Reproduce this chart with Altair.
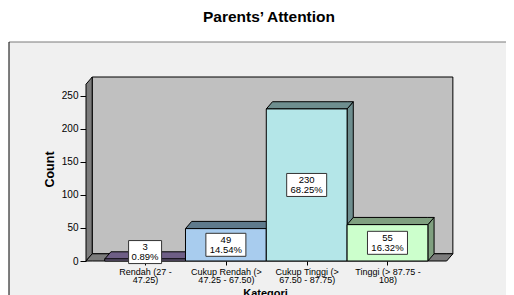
import json
import altair as alt
import pandas as pd

# ---------------- data ----------------
categories = ["Rendah (27 - 47.25)", "Cukup Rendah (> 47.25 - 67.50)",
              "Cukup Tinggi (> 67.50 - 87.75)", "Tinggi (> 87.75 - 108)"]
tick_lines = [["Rendah (27 -", "47.25)"], ["Cukup Rendah (>", "47.25 - 67.50)"],
              ["Cukup Tinggi (>", "67.50 - 87.75)"], ["Tinggi (> 87.75 -", "108)"]]
counts = [3, 49, 230, 55]
percents = ["0.89%", "14.54%", "68.25%", "16.32%"]
y_ticks = [0, 50, 100, 150, 200, 250]

front_colors = ["#9080aa", "#a8ccee", "#b4e6e8", "#ccffcc"]
shade_colors = ["#6e5e86", "#5f7a8c", "#6e8e8f", "#80a080"]

# ---------------- layout (data units) ----------------
W, H = 374, 184
XMAX, YMAX = 4.629, 278.3
A = 0.2314      # gap before first bar
R = 4.464       # right end of floor front edge
DX, DY = 0.0767, 10.9   # 3-D depth
PX_X = W / XMAX
PX_Y = H / YMAX
FONT = "Liberation Sans"
LH = 10.0

xs = alt.Scale(domain=[0, XMAX], nice=False, zero=False)
ys = alt.Scale(domain=[0, YMAX], nice=False, zero=False)

fronts, tops, sides, boxes = [], [], [], []
for i, (c, v, p) in enumerate(zip(categories, counts, percents)):
    x0, x1 = A + i, A + i + 1
    fronts.append(dict(cat=c, x0=x0, x1=x1, y0=0, y1=v, color=front_colors[i]))
    for xx, yy, yy2 in [(x0, v, v), (x0 + DX, v, v + DY), (x1, v, v + DY), (x1 + DX, v + DY, v + DY)]:
        tops.append(dict(cat=c, x=xx, y=yy, y2=yy2, color=shade_colors[i]))
    for xx, yy, yy2 in [(x1, 0, v), (x1 + DX, DY, v + DY)]:
        sides.append(dict(cat=c, x=xx, y=yy, y2=yy2, color=shade_colors[i]))
    wpx = 7 * len(p) - 2
    yc = max(v / 2, 13.5)
    xc = x0 + 0.5
    boxes.append(dict(cat=c, bx0=xc - wpx / 2 / PX_X, bx1=xc + wpx / 2 / PX_X,
                      by0=yc - 11.5 / PX_Y, by1=yc + 11.5 / PX_Y,
                      xc=xc, yc=yc, label=f"{v}\n{p}"))

df_front = pd.DataFrame(fronts)
df_top = pd.DataFrame(tops)
df_side = pd.DataFrame(sides)
df_box = pd.DataFrame(boxes)

df_wall = pd.DataFrame([dict(x0=DX, x1=R + DX, y0=DY, y1=YMAX)])
df_lwall = pd.DataFrame([dict(part="l", x=0, y=0, y2=YMAX - DY), dict(part="l", x=DX, y=DY, y2=YMAX)])
df_floor = pd.DataFrame([dict(part="f", x=0, y=0, y2=0), dict(part="f", x=DX, y=0, y2=DY),
                         dict(part="f", x=R, y=0, y2=DY), dict(part="f", x=R + DX, y=DY, y2=DY)])
one = pd.DataFrame({"k": [0]})

centers = [A + i + 0.5 for i in range(len(categories))]
label_expr = f"{json.dumps(tick_lines)}[round(datum.value - {A + 0.5})]"

# ---------------- layers ----------------
# white strip above the light-grey panel (the chart background is the panel colour)
top_white = alt.Chart(one).mark_rect(fill="white").encode(
    x=alt.value(-80), x2=alt.value(440), y=alt.value(-70), y2=alt.value(-35))
left_white = alt.Chart(one).mark_rect(fill="white").encode(
    x=alt.value(-80), x2=alt.value(-77), y=alt.value(-70), y2=alt.value(240))
panel_top = alt.Chart(one).mark_rule(color="#7a7a7a", strokeWidth=1).encode(
    x=alt.value(-77), x2=alt.value(440), y=alt.value(-35))
panel_left = alt.Chart(one).mark_rule(color="black", strokeWidth=1).encode(
    x=alt.value(-77), y=alt.value(-35), y2=alt.value(240))

wall = alt.Chart(df_wall).mark_rect(fill="#c0c0c0", stroke="black", strokeWidth=1).encode(
    x=alt.X("x0:Q", scale=xs, axis=alt.Axis(
        values=centers, tickCount=len(centers), labelExpr=label_expr, tickSize=4, domain=False,
        grid=False, labelFont=FONT, labelFontSize=9, labelLineHeight=8.5, labelPadding=2, labelAngle=0,
        labelOverlap=False, labelFlush=False, labelBound=False, labelColor="black", tickColor="black",
        title="Kategori", titleFont=FONT, titleFontSize=11, titleFontWeight="bold",
        titleColor="black", titlePadding=3, titleX=179)),
    x2="x1",
    y=alt.Y("y0:Q", scale=ys, axis=alt.Axis(
        values=y_ticks, tickCount=len(y_ticks), tickSize=6, domain=False, grid=False,
        labelFont=FONT, labelFontSize=10, labelPadding=2, labelOverlap=False, labelFlush=False,
        labelBound=False, labelColor="black", tickColor="black", title="Count", titleFont=FONT,
        titleFontSize=12.5, titleFontWeight="bold", titleColor="black", titlePadding=5)),
    y2="y1")
lwall = alt.Chart(df_lwall).mark_area(fill="#7c7c7c", stroke="black", strokeWidth=1, orient="vertical").encode(
    x=alt.X("x:Q", scale=xs), y=alt.Y("y:Q", scale=ys), y2="y2", detail="part:N")
floor = alt.Chart(df_floor).mark_area(fill="#7c7c7c", stroke="black", strokeWidth=1, orient="vertical").encode(
    x=alt.X("x:Q", scale=xs), y=alt.Y("y:Q", scale=ys), y2="y2", detail="part:N")

side_l = alt.Chart(df_side).mark_area(stroke="black", strokeWidth=1, orient="vertical").encode(
    x=alt.X("x:Q", scale=xs), y=alt.Y("y:Q", scale=ys), y2="y2",
    detail="cat:N", fill=alt.Fill("color:N", scale=None))
top_l = alt.Chart(df_top).mark_area(stroke="black", strokeWidth=1, orient="vertical").encode(
    x=alt.X("x:Q", scale=xs), y=alt.Y("y:Q", scale=ys), y2="y2",
    detail="cat:N", fill=alt.Fill("color:N", scale=None))

front_l = alt.Chart(df_front).mark_rect(stroke="black", strokeWidth=1).encode(
    x=alt.X("x0:Q", scale=xs), x2="x1",
    y=alt.Y("y0:Q", scale=ys), y2="y1",
    fill=alt.Fill("color:N", scale=None))

box_l = alt.Chart(df_box).mark_rect(fill="white", stroke="#333333", strokeWidth=1).encode(
    x=alt.X("bx0:Q", scale=xs), x2="bx1", y=alt.Y("by0:Q", scale=ys), y2="by1")
text_l = alt.Chart(df_box).mark_text(font=FONT, fontSize=9.5, lineHeight=LH, lineBreak="\n", dy=-LH / 2,
                                     align="center", baseline="middle", color="black").encode(
    x=alt.X("xc:Q", scale=xs), y=alt.Y("yc:Q", scale=ys), text="label:N")

title_l = alt.Chart(one).mark_text(text="Parents\u2019 Attention", font=FONT, fontSize=15.5,
                                   fontWeight="bold", align="center", baseline="middle", color="black").encode(
    x=alt.value(183), y=alt.value(-60.5))

chart = alt.layer(top_white, left_white, panel_top, panel_left, wall, lwall, floor, side_l, top_l,
                  front_l, box_l, text_l, title_l).properties(
    width=W, height=H,
    autosize=alt.AutoSizeParams(type="none"),
    padding={"left": 78, "top": 69, "right": 46, "bottom": 34},
    background="#f0f0f0",
).configure_view(stroke=None)

chart.save("out.html", embed_options={"renderer": "svg", "actions": False})
